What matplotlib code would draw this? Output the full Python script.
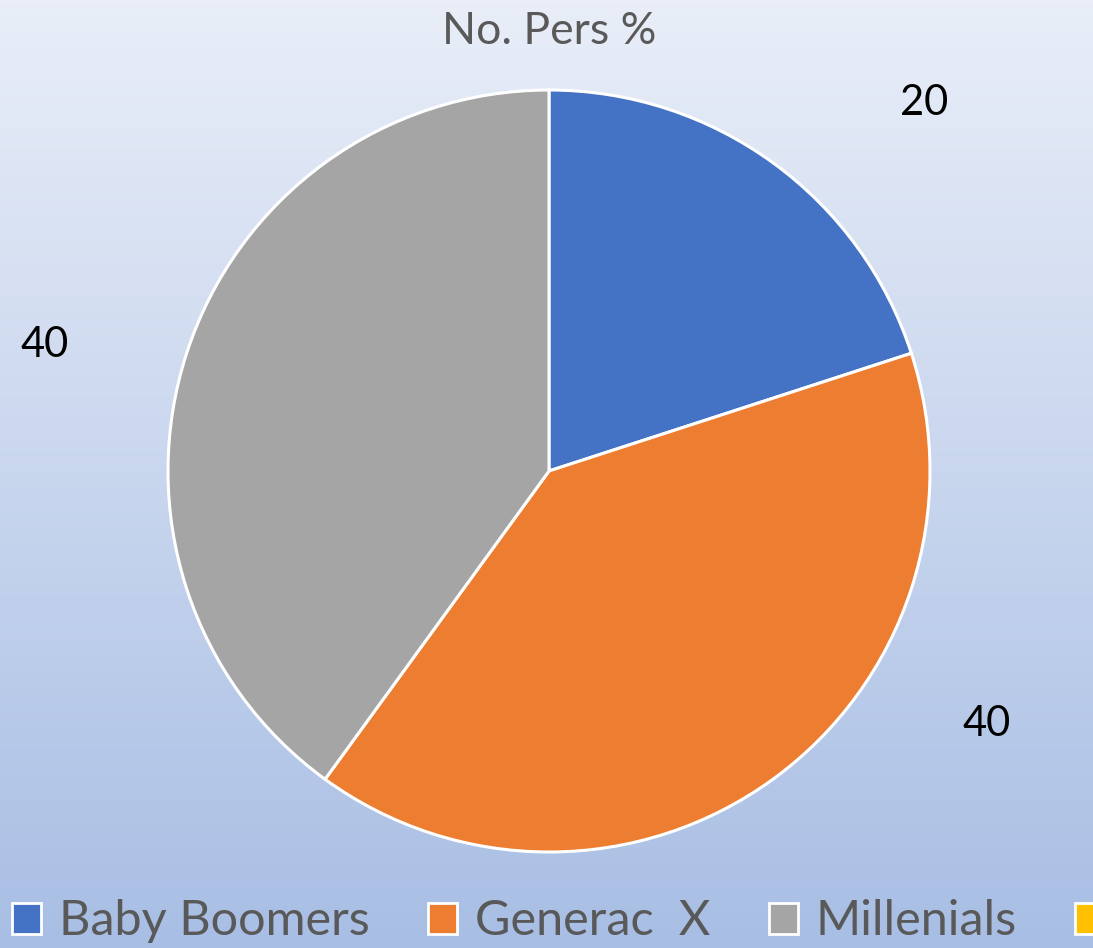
import numpy as np
import matplotlib.pyplot as plt
from matplotlib.patches import Patch

categories = ["Baby Boomers", "Generac  X", "Millenials", ""]
values = [20, 40, 40, 0]
colors = ["#4472C4", "#ED7D31", "#A5A5A5", "#FFC000"]
title = "No. Pers %"

W, H = 1093, 948
fig = plt.figure(figsize=(W / 100, H / 100), dpi=100)

# background gradient
bg = fig.add_axes([0, 0, 1, 1], zorder=-10)
top = np.array([233, 238, 248]) / 255
bot = np.array([168, 190, 228]) / 255
t = np.linspace(0, 1, 256)[:, None]
grad = top[None, :] * (1 - t) + bot[None, :] * t
bg.imshow(grad[:, None, :], aspect="auto", extent=[0, 1, 0, 1])
bg.axis("off")

cx, cy, r = 549, 471, 381
ax = fig.add_axes([(cx - r) / W, (H - cy - r) / H, 2 * r / W, 2 * r / H])

plot_vals = [v for v in values if v > 0]
plot_cols = [c for v, c in zip(values, colors) if v > 0]
wedges, _ = ax.pie(plot_vals, colors=plot_cols, startangle=90, counterclock=False,
                   radius=1, wedgeprops=dict(edgecolor="white", linewidth=2.2))
ax.set_xlim(-1, 1)
ax.set_ylim(-1, 1)
ax.set_aspect("equal")
ax.axis("off")

# data labels (pixel positions as in reference)
label_px = [(924, 103), (987, 724), (45, 345)]
for v, (px, py) in zip(plot_vals, label_px):
    ax.text((px - cx) / r, (cy - py) / r, str(v), ha="center", va="center",
            fontsize=30, color="black", family="Lato", clip_on=False)

fig.text(549 / W, 1 - 32 / H, title, ha="center", va="center", fontsize=32,
         color="#595959", family="Lato")

handles = [Patch(facecolor=c, edgecolor="white", linewidth=2) for c in colors]
leg = fig.legend(handles, categories, loc="lower left", bbox_to_anchor=(-0.016, -0.026),
                 ncol=4, frameon=False, handlelength=0.6, handleheight=0.6,
                 handletextpad=0.37, columnspacing=1.2, borderaxespad=0.2,
                 prop=dict(family="Lato", size=35))
for txt in leg.get_texts():
    txt.set_color("#595959")

fig.savefig("out.png", dpi=100)
